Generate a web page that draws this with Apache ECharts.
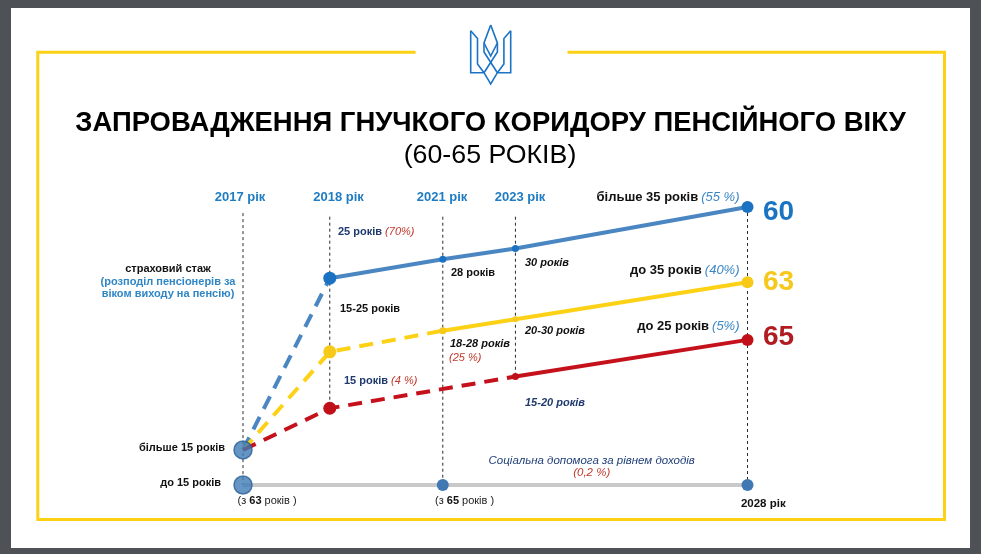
<!DOCTYPE html>
<html><head><meta charset="utf-8">
<script src="https://cdn.jsdelivr.net/npm/echarts/dist/echarts.min.js"></script>
<style>html,body{margin:0;padding:0;background:#4e5256;overflow:hidden}#c{width:981px;height:554px}</style>
</head><body><div id="c"></div>
<script>
// ---- data ----
const years = ['2017', '2018', '2021', '2023', '2028'];
const yearPos = [0, 17.2, 39.6, 54.0, 100];          // position of each year along the schematic timeline (0-100)
const blueYears = ['2017', '2018', '2021', '2023', '2028'];
const blueLevel = [12.6, 74.4, 81.2, 85.1, 100];     // більше 35 років -> 60
const yellowYears = ['2017', '2018', '2021', '2023', '2028'];
const yellowLevel = [12.6, 47.9, 55.5, 59.6, 72.9];  // до 35 років -> 63
const redYears = ['2017', '2018', '2023', '2028'];
const redLevel = [12.6, 27.6, 39.0, 52.2];           // до 25 років -> 65
const grayYears = ['2017', '2021', '2028'];
const grayLevel = [0, 0, 0];                         // до 15 років (соціальна допомога)
const startYears = ['2017', '2017'];
const startLevel = [12.6, 0];
const finalAges = ['60', '63', '65'];
const yearLabels = ['2017 рік', '2018 рік', '2021 рік', '2023 рік'];

const P = y => yearPos[years.indexOf(y)];
const pts = (ys, vs) => ys.map((y, i) => [P(y), vs[i]]);

const chart = echarts.init(document.getElementById('c'), null, {renderer: 'canvas'});
const F = 'Liberation Sans, Arial, sans-serif';

function seg(data, color, dashed, sizes, symColor, z) {
  return {
    type: 'line', data: data, clip: false, z: z || 3, silent: true, animation: false,
    lineStyle: {color: color, width: 4, type: dashed ? [14, 9] : 'solid', cap: 'butt'},
    symbol: 'circle',
    symbolSize: (v, p) => sizes[p.dataIndex],
    itemStyle: {color: symColor || color},
    showSymbol: true
  };
}

const blue = pts(blueYears, blueLevel);
const yellow = pts(yellowYears, yellowLevel);
const red = pts(redYears, redLevel);
const gray = pts(grayYears, grayLevel);

// guide lines: from the top of the chart down to the lowest mark of each year
const guideTop = {'2017': 97.8, '2018': 96.5, '2021': 96.5, '2023': 96.5, '2028': 100};
const guideBottom = {'2017': 0, '2018': redLevel[1], '2021': 0, '2023': redLevel[2], '2028': 0};
const guides = years.map(y => ({
  type: 'line', data: [[P(y), guideTop[y]], [P(y), guideBottom[y]]], clip: false, z: 1,
  symbol: 'none', silent: true, animation: false,
  lineStyle: {color: '#2a2a2a', width: 1, type: [3, 3]}
}));

const series = guides.concat([
  seg(gray, '#c9c9c9', false, [0, 12, 12], '#3f78b2', 2),
  seg(blue.slice(0, 2), '#4a86c1', true, [0, 0], '#1c72c2'),
  seg(yellow.slice(0, 3), '#fcd116', true, [0, 0, 0], '#f7c91a'),
  seg(red.slice(0, 3), '#c4111b', true, [0, 0, 0], '#c0101a'),
  seg(blue.slice(1), '#4a86c1', false, [13, 7, 7, 12], '#1c72c2', 4),
  seg(yellow.slice(2), '#fcd116', false, [7, 6, 12], '#f7c91a', 4),
  seg(red.slice(2), '#c4111b', false, [7, 12], '#c0101a', 4),
  seg(yellow.slice(1, 2), '#fcd116', false, [13], '#f7c91a', 4),
  seg(red.slice(1, 2), '#c4111b', false, [13], '#c0101a', 4),
  {
    type: 'scatter', data: pts(startYears, startLevel), clip: false, z: 6, silent: true, animation: false,
    symbolSize: 18, itemStyle: {color: '#3d7ab7', borderColor: '#2c5f92', borderWidth: 1.5}
  }
]);

function T(x, y, text, o, extra) {
  return Object.assign({type: 'text', x: x, y: y, z: 50, silent: true,
    style: Object.assign({text: text, fill: '#111', fontFamily: F, fontSize: 11, fontWeight: 'bold',
      align: 'left', verticalAlign: 'middle'}, o || {})}, extra || {});
}
const rich = {
  n: {fontFamily: F, fontSize: 11, fontWeight: 'bold', fill: '#1f3a6e'},
  k: {fontFamily: F, fontSize: 11, fontWeight: 'bold', fill: '#111'},
  r: {fontFamily: F, fontSize: 11, fontStyle: 'italic', fontWeight: 'normal', fill: '#c0392b'},
  K: {fontFamily: F, fontSize: 13, fontWeight: 'bold', fill: '#111'},
  B: {fontFamily: F, fontSize: 13, fontStyle: 'italic', fontWeight: 'normal', fill: '#3b86c5'},
  p: {fontFamily: F, fontSize: 11, fontWeight: 'normal', fill: '#222'},
  pb: {fontFamily: F, fontSize: 11, fontWeight: 'bold', fill: '#111'}
};

const yellowC = '#fcd116';
const blueT = '#1f7cc2';
const graphic = [
  {type: 'rect', z: -10, silent: true, shape: {x: 11, y: 8, width: 959, height: 540}, style: {fill: '#ffffff'}},
  {type: 'polyline', z: -5, silent: true,
    shape: {points: [[415.6, 52.3], [37.8, 52.3], [37.8, 519.5], [944.5, 519.5], [944.5, 52.3], [567.5, 52.3]]},
    style: {stroke: yellowC, lineWidth: 3, fill: null}},
  // emblem
  {type: 'polyline', silent: true, shape: {points: [[470.7,30.7],[470.7,72.7],[484,72.7],[490.7,84],[497.4,72.7],[510.7,72.7],[510.7,30.7]]}, style: {stroke: '#1a73c6', lineWidth: 1.6, fill: null}},
  {type: 'polyline', silent: true, shape: {points: [[470.7,30.7],[477.5,38.5],[477.5,64],[484,72.7]]}, style: {stroke: '#1a73c6', lineWidth: 1.6, fill: null}},
  {type: 'polyline', silent: true, shape: {points: [[510.7,30.7],[503.9,38.5],[503.9,64],[497.4,72.7]]}, style: {stroke: '#1a73c6', lineWidth: 1.6, fill: null}},
  {type: 'polyline', silent: true, shape: {points: [[490.7,25],[484,43],[484,52],[497.4,72.7]]}, style: {stroke: '#1a73c6', lineWidth: 1.6, fill: null}},
  {type: 'polyline', silent: true, shape: {points: [[490.7,25],[497.4,43],[497.4,52],[484,72.7]]}, style: {stroke: '#1a73c6', lineWidth: 1.6, fill: null}},
  {type: 'polyline', silent: true, shape: {points: [[484,43],[490.7,56],[497.4,43]]}, style: {stroke: '#1a73c6', lineWidth: 1.6, fill: null}},
  // titles
  T(490.5, 123.5, 'ЗАПРОВАДЖЕННЯ ГНУЧКОГО КОРИДОРУ ПЕНСІЙНОГО ВІКУ', {fontSize: 28, align: 'center', fill: '#000'}, {scaleX: 0.98}),
  T(490, 156, '(60-65 РОКІВ)', {fontSize: 25, fontWeight: 'normal', align: 'center', fill: '#000'}, {scaleX: 1.07}),
  // year headers
  T(240, 197.5, yearLabels[0], {fontSize: 13, align: 'center', fill: blueT}),
  T(338.5, 197.5, yearLabels[1], {fontSize: 13, align: 'center', fill: blueT}),
  T(442, 197.5, yearLabels[2], {fontSize: 13, align: 'center', fill: blueT}),
  T(520, 197.5, yearLabels[3], {fontSize: 13, align: 'center', fill: blueT}),
  // right side labels
  T(739.5, 197.5, '{K|більше 35 років} {B|(55 %)}', {align: 'right', rich: rich}),
  T(739.5, 270, '{K|до 35 років} {B|(40%)}', {align: 'right', rich: rich}),
  T(739.5, 326.7, '{K|до 25 років} {B|(5%)}', {align: 'right', rich: rich}),
  T(763, 212, finalAges[0], {fontSize: 28, fill: '#1b74c1'}),
  T(763, 282.5, finalAges[1], {fontSize: 28, fill: '#f6c81c'}),
  T(763, 337.5, finalAges[2], {fontSize: 28, fill: '#b01c22'}),
  // inner annotations
  T(338, 231.7, '{n|25 років} {r|(70%)}', {rich: rich}),
  T(451, 273.3, '28 років'),
  T(525, 263.3, '30 років', {fontStyle: 'italic'}),
  T(340, 309.3, '15-25 років'),
  T(450, 344.3, '18-28 років', {fontStyle: 'italic'}),
  T(449, 357.7, '(25 %)', {fontStyle: 'italic', fontWeight: 'normal', fill: '#c0392b'}),
  T(525, 330.7, '20-30 років', {fontStyle: 'italic'}),
  T(344, 380.7, '{n|15 років} {r|(4 %)}', {rich: rich}),
  T(525, 402.7, '15-20 років', {fontStyle: 'italic', fill: '#1f3a6e'}),
  // left block
  T(168, 269.3, 'страховий стаж', {align: 'center'}),
  T(168, 281.7, '(розподіл пенсіонерів за', {align: 'center', fill: '#2f86c6'}),
  T(168, 294, 'віком виходу на пенсію)', {align: 'center', fill: '#2f86c6'}),
  T(225, 448, 'більше 15 років', {align: 'right'}),
  T(221, 483, 'до 15 років', {align: 'right'}),
  // bottom
  T(237.5, 501, '{p|(з }{pb|63}{p| років )}', {rich: rich}),
  T(435, 501, '{p|(з }{pb|65}{p| років )}', {rich: rich}),
  T(591.7, 460.7, 'Соціальна допомога за рівнем доходів', {align: 'center', fontStyle: 'italic', fontWeight: 'normal', fill: '#22407a', fontSize: 11.5}),
  T(591.7, 472.3, '(0,2 %)', {align: 'center', fontStyle: 'italic', fontWeight: 'normal', fill: '#c0392b', fontSize: 11.5}),
  T(763.3, 504.3, '2028 рік', {align: 'center', fontSize: 11.5})
];

chart.setOption({
  animation: false,
  backgroundColor: 'transparent',
  grid: {left: 243, right: 233.5, top: 207, bottom: 69},
  xAxis: {type: 'value', min: 0, max: 100, show: false},
  yAxis: {type: 'value', min: 0, max: 100, show: false},
  series: series,
  graphic: graphic
});
</script>
</body></html>
